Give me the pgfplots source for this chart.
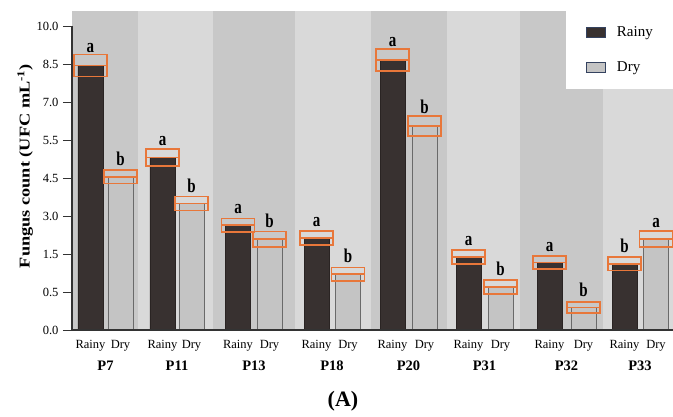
\documentclass[border=0pt]{standalone}
\usepackage{pgfplots}
\pgfplotsset{compat=1.18}
\usepackage{pgfplotstable}
\usepackage{fontspec}
\setmainfont{Liberation Serif}
\definecolor{rainyc}{HTML}{383130}
\definecolor{rainyedge}{HTML}{2A2423}
\definecolor{dryc}{HTML}{C4C4C4}
\definecolor{dryedge}{HTML}{6A6A6A}
\definecolor{bandD}{HTML}{C8C8C8}
\definecolor{bandL}{HTML}{D9D9D9}
\definecolor{errc}{HTML}{E8773A}
\definecolor{axc}{HTML}{333333}
\definecolor{legedge}{HTML}{34425F}

% x = position along the axis, m = mean (tick-index units), e = half box height
\pgfplotstableread{
x     m     e
18.5  6.96  0.29
90.5  4.54  0.22
166   2.76  0.18
244.5 2.42  0.18
320.5 7.11  0.29
396.5 1.92  0.18
477.5 1.78  0.17
552.5 1.74  0.18
}\rtab
\pgfplotstableread{
x     m     e
48.5  4.03  0.18
119.5 3.33  0.18
197.5 2.39  0.20
276   1.47  0.18
352.5 5.37  0.26
428.5 1.13  0.18
511.5 0.59  0.145
584   2.39  0.21
}\dtab
\pgfplotstableread{
x     m     e     lab
18.5  6.96  0.29  a
48.5  4.03  0.18  b
90.5  4.54  0.22  a
119.5 3.33  0.18  b
166   2.76  0.18  a
197.5 2.39  0.20  b
244.5 2.42  0.18  a
276   1.47  0.18  b
320.5 7.11  0.29  a
352.5 5.37  0.26  b
396.5 1.92  0.18  a
428.5 1.13  0.18  b
477.5 1.78  0.17  a
511.5 0.59  0.145 b
552.5 1.74  0.18  b
584   2.39  0.21  a
}\btab

\begin{document}
\begin{tikzpicture}
\begin{axis}[
  name=main, at={(0,0)}, anchor=south west,
  width=601pt, height=319pt, scale only axis,
  xmin=0, xmax=601, ymin=0, ymax=8.395,
  ybar, bar width=25, bar shift=0pt,
  axis line style={draw=none},
  xtick={18.5,48.5,90.5,119.5,166,197.5,244.5,276,320.5,352.5,396.5,428.5,477.5,511.5,552.5,584},
  xticklabels={Rainy,Dry,Rainy,Dry,Rainy,Dry,Rainy,Dry,Rainy,Dry,Rainy,Dry,Rainy,Dry,Rainy,Dry},
  xticklabel style={anchor=base, yshift=-9pt, font=\fontsize{12.5}{12.5}\selectfont},
  extra x ticks={33.5,105,182,260,336.5,412.5,494.5,568},
  extra x tick labels={P7,P11,P13,P18,P20,P31,P32,P33},
  extra x tick style={tick style={draw=none}, xticklabel style={anchor=base, yshift=-22pt, font=\bfseries\fontsize{14.5}{14.5}\selectfont}},
  ytick={0,1,2,3,4,5,6,7,8},
  yticklabels={0.0,0.5,1.5,3.0,4.5,5.5,7.0,8.5,10.0},
  yticklabel style={xshift=-1pt, font=\fontsize{12.5}{12.5}\selectfont},
  tick align=outside, ytick pos=left,
  xtick style={draw=none},
  ytick style={draw=axc, line width=1pt},
  major tick length=9pt,
  ylabel={\scalebox{1.22}[1]{\bfseries Fungus count (UFC mL\textsuperscript{-1})}},
  ylabel style={at={(axis description cs:-0.078,0.514)}, anchor=center, font=\fontsize{15}{15}\selectfont},
  legend style={at={(rel axis cs:1,1)}, anchor=north east, draw=none, fill=white,
    inner xsep=20pt, inner ysep=15pt, row sep=22pt,
    font=\fontsize{15}{15}\selectfont,
    nodes={inner sep=0pt, text height=10pt, text depth=3pt}},
  legend cell align=left,
  legend image code/.code={\draw[#1, draw=legedge, line width=0.8pt] (0pt,-5pt) rectangle (19pt,5pt); \path[draw=none, fill=none] (0pt,0pt) rectangle (31pt,0.1pt);},
]
\fill[bandD] (axis cs:0,0) rectangle (axis cs:66,8.395);
\fill[bandL] (axis cs:66,0) rectangle (axis cs:141,8.395);
\fill[bandD] (axis cs:141,0) rectangle (axis cs:223,8.395);
\fill[bandL] (axis cs:223,0) rectangle (axis cs:299,8.395);
\fill[bandD] (axis cs:299,0) rectangle (axis cs:375,8.395);
\fill[bandL] (axis cs:375,0) rectangle (axis cs:448,8.395);
\fill[bandD] (axis cs:448,0) rectangle (axis cs:531,8.395);
\fill[bandL] (axis cs:531,0) rectangle (axis cs:601,8.395);
\addplot[fill=rainyc, draw=rainyedge, line width=0.6pt] table[x=x, y=m] {\rtab};
\addlegendentry{Rainy}
\addplot[fill=dryc, draw=dryedge, line width=0.8pt] table[x=x, y=m] {\dtab};
\addlegendentry{Dry}
\end{axis}

\begin{axis}[
  at={(0,0)}, anchor=south west,
  width=601pt, height=319pt, scale only axis,
  xmin=0, xmax=601, ymin=0, ymax=8.395,
  hide axis, ybar stacked, bar width=33,
  clip=false,
]
\addplot[draw=none, fill=none, forget plot] table[x=x, y expr=\thisrow{m}-\thisrow{e}] {\btab};
\addplot[draw=errc, line width=1.5pt, fill=none, forget plot] table[x=x, y=e] {\btab};
\addplot[draw=errc, line width=1.5pt, fill=none, forget plot,
  nodes near coords={\scalebox{1}[1.3]{\pgfplotspointmeta}}, point meta=explicit symbolic,
  every node near coord/.append style={anchor=south, inner sep=0pt, yshift=7pt, text=black,
    font=\bfseries\fontsize{15}{15}\selectfont}]
  table[x=x, y=e, meta=lab] {\btab};
\draw[axc, line width=1.5pt] (axis cs:0,0) -- (axis cs:0,8);
\draw[axc, line width=2pt] (axis cs:0,0) -- (axis cs:601,0);
\end{axis}

\node[font=\bfseries\fontsize{22}{22}\selectfont, anchor=center] at (271pt,-71pt) {(A)};
\pgfresetboundingbox
\path[use as bounding box] (-72pt,-86pt) rectangle (601pt,330pt);
\end{tikzpicture}
\end{document}
